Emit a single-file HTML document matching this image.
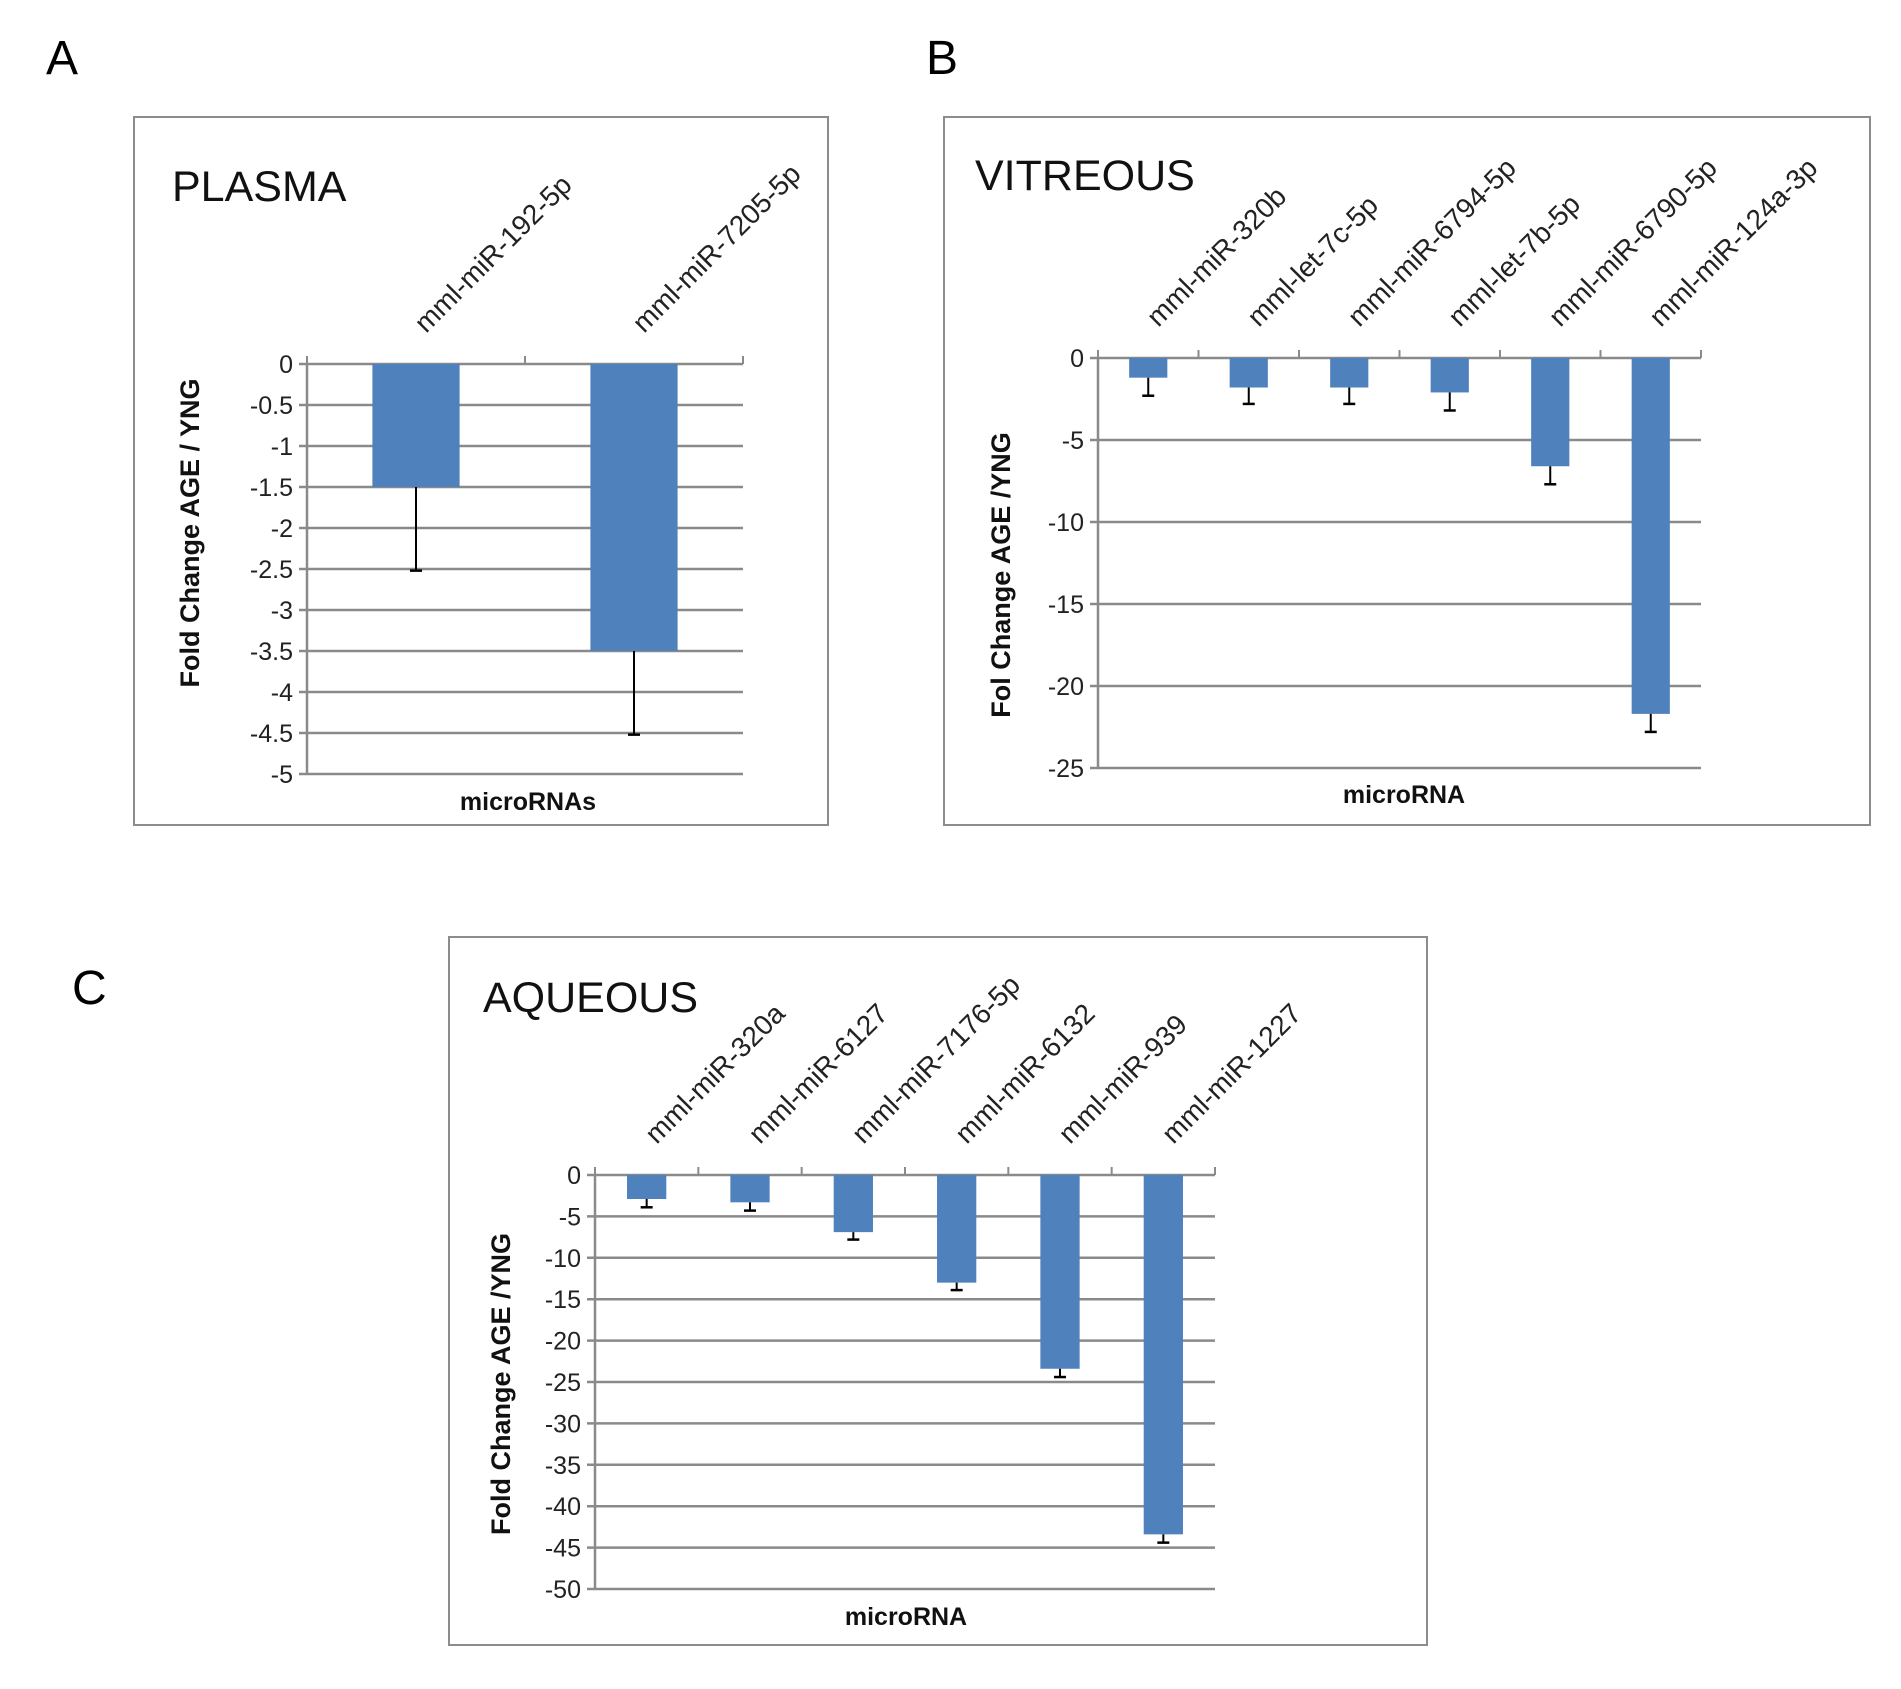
<!DOCTYPE html>
<html><head><meta charset="utf-8"><style>
html,body{margin:0;padding:0;background:#fff}
svg{display:block;font-family:"Liberation Sans",Arial,sans-serif}
</style></head><body>
<svg id="fig" width="1901" height="1689" viewBox="0 0 1901 1689" xmlns="http://www.w3.org/2000/svg">
<rect width="1901" height="1689" fill="#fff"/>
<text x="46" y="74" font-size="48">A</text>
<text x="926" y="74" font-size="48">B</text>
<text x="72" y="1004" font-size="48">C</text>
</svg>
<script>
const plasmaCats = ["mml-miR-192-5p","mml-miR-7205-5p"];
const plasmaVals = [-1.5,-3.5];
const plasmaErr = [1.02,1.02];
const plasmaTicks = [0,-0.5,-1,-1.5,-2,-2.5,-3,-3.5,-4,-4.5,-5];
const plasmaTickLabels = ["0","-0.5","-1","-1.5","-2","-2.5","-3","-3.5","-4","-4.5","-5"];

const vitCats = ["mml-miR-320b","mml-let-7c-5p","mml-miR-6794-5p","mml-let-7b-5p","mml-miR-6790-5p","mml-miR-124a-3p"];
const vitVals = [-1.2,-1.8,-1.8,-2.1,-6.6,-21.7];
const vitErr = [1.1,1.0,1.0,1.1,1.1,1.1];
const vitTicks = [0,-5,-10,-15,-20,-25];
const vitTickLabels = ["0","-5","-10","-15","-20","-25"];

const aqCats = ["mml-miR-320a","mml-miR-6127","mml-miR-7176-5p","mml-miR-6132","mml-miR-939","mml-miR-1227"];
const aqVals = [-2.9,-3.3,-6.9,-13.0,-23.4,-43.4];
const aqErr = [1.0,1.0,0.9,0.9,1.0,1.0];
const aqTicks = [0,-5,-10,-15,-20,-25,-30,-35,-40,-45,-50];
const aqTickLabels = ["0","-5","-10","-15","-20","-25","-30","-35","-40","-45","-50"];

const NS = "http://www.w3.org/2000/svg";
const svg = document.getElementById('fig');
function mk(tag, attrs, parent){
  const e = document.createElementNS(NS, tag);
  for (const k in attrs) e.setAttribute(k, attrs[k]);
  (parent||svg).appendChild(e);
  return e;
}
function panel(p){
  const g = mk('g', {});
  
  
  const box = mk('rect', {x:p.box[0], y:p.box[1], width:p.box[2], height:p.box[3], fill:'#fff', stroke:'#8c8c8c', 'stroke-width':2}, g);
  
  
  const t = mk('text', {x:p.title[0], y:p.title[1], 'font-size':43, fill:'#111'}, g);
  t.textContent = p.titleText;
  
  
  const x0 = p.plot[0], x1 = p.plot[1], y0 = p.plot[2], y1 = p.plot[3];
  const vmin = p.ticks[p.ticks.length-1];
  const yScale = v => y0 + (v / vmin) * (y1 - y0);
  const n = p.cats.length, cw = (x1 - x0) / n;
  const xCenter = i => x0 + cw * (i + 0.5);
  p.ticks.forEach((tv, i) => {
    const y = yScale(tv);
    const gl = mk('line', {x1:x0-8, x2:x1, y1:y, y2:y, stroke:'#8a8a8a', 'stroke-width':2.5}, g);
    
    
    const tl = mk('text', {x:x0-14, y:y+9, 'font-size':25, 'text-anchor':'end', fill:'#222'}, g);
    tl.textContent = p.tickLabels[i];
    
    
  });
  const ya = mk('line', {x1:x0, x2:x0, y1:y0, y2:y1, stroke:'#8a8a8a', 'stroke-width':2.5}, g);
  
  
  for (let i = 0; i <= n; i++) {
    const tk = mk('line', {x1:x0+cw*i, x2:x0+cw*i, y1:y0, y2:y0-8, stroke:'#8a8a8a', 'stroke-width':2}, g);
    
    
  }
  p.vals.forEach((v, i) => {
    const cx = xCenter(i), bw = cw * p.barFrac;
    const b = mk('rect', {x:cx-bw/2, y:y0, width:bw, height:yScale(v)-y0, fill:'#4f81bd'}, g);
    
    
    const ye = yScale(v - p.err[i]);
    const e1 = mk('line', {x1:cx, x2:cx, y1:yScale(v), y2:ye, stroke:'#000', 'stroke-width':2}, g);
    
    
    const e2 = mk('line', {x1:cx-6, x2:cx+6, y1:ye, y2:ye, stroke:'#000', 'stroke-width':2.5}, g);
    
    
    const lx = cx + 10, ly = y0 - 30;
    const cl = mk('text', {x:lx, y:ly, 'font-size':28, fill:'#222', transform:`rotate(-45 ${lx} ${ly})`}, g);
    cl.textContent = p.cats[i];
    
    
  });
  const yt = mk('text', {x:0, y:0, 'font-size':27, 'font-weight':'bold', 'text-anchor':'middle', fill:'#111',
    transform:`translate(${p.yTitle[0]} ${p.yTitle[1]}) rotate(-90)`}, g);
  yt.setAttribute('xml:space', 'preserve');
  yt.textContent = p.yTitleText;
  
  
  const xt = mk('text', {x:p.xTitle[0], y:p.xTitle[1], 'font-size':25, 'font-weight':'bold', 'text-anchor':'middle', fill:'#111'}, g);
  xt.textContent = p.xTitleText;
  
  
}
panel({name:'plasma', box:[134,117,694,708], title:[172,201], titleText:'PLASMA',
  plot:[307,743,364,774], cats:plasmaCats, vals:plasmaVals, err:plasmaErr, ticks:plasmaTicks, tickLabels:plasmaTickLabels,
  barFrac:0.4, yTitle:[199,533], yTitleText:'Fold Change  AGE / YNG', xTitle:[528,810], xTitleText:'microRNAs'});
panel({name:'vitreous', box:[944,117,926,708], title:[975,190], titleText:'VITREOUS',
  plot:[1098,1701,358,768], cats:vitCats, vals:vitVals, err:vitErr, ticks:vitTicks, tickLabels:vitTickLabels,
  barFrac:0.38, yTitle:[1010,575], yTitleText:'Fol Change  AGE /YNG', xTitle:[1404,803], xTitleText:'microRNA'});
panel({name:'aqueous', box:[449,937,978,708], title:[483,1012], titleText:'AQUEOUS',
  plot:[595,1215,1175,1589], cats:aqCats, vals:aqVals, err:aqErr, ticks:aqTicks, tickLabels:aqTickLabels,
  barFrac:0.38, yTitle:[510,1384], yTitleText:'Fold Change  AGE /YNG', xTitle:[906,1625], xTitleText:'microRNA'});
</script>
</body></html>
